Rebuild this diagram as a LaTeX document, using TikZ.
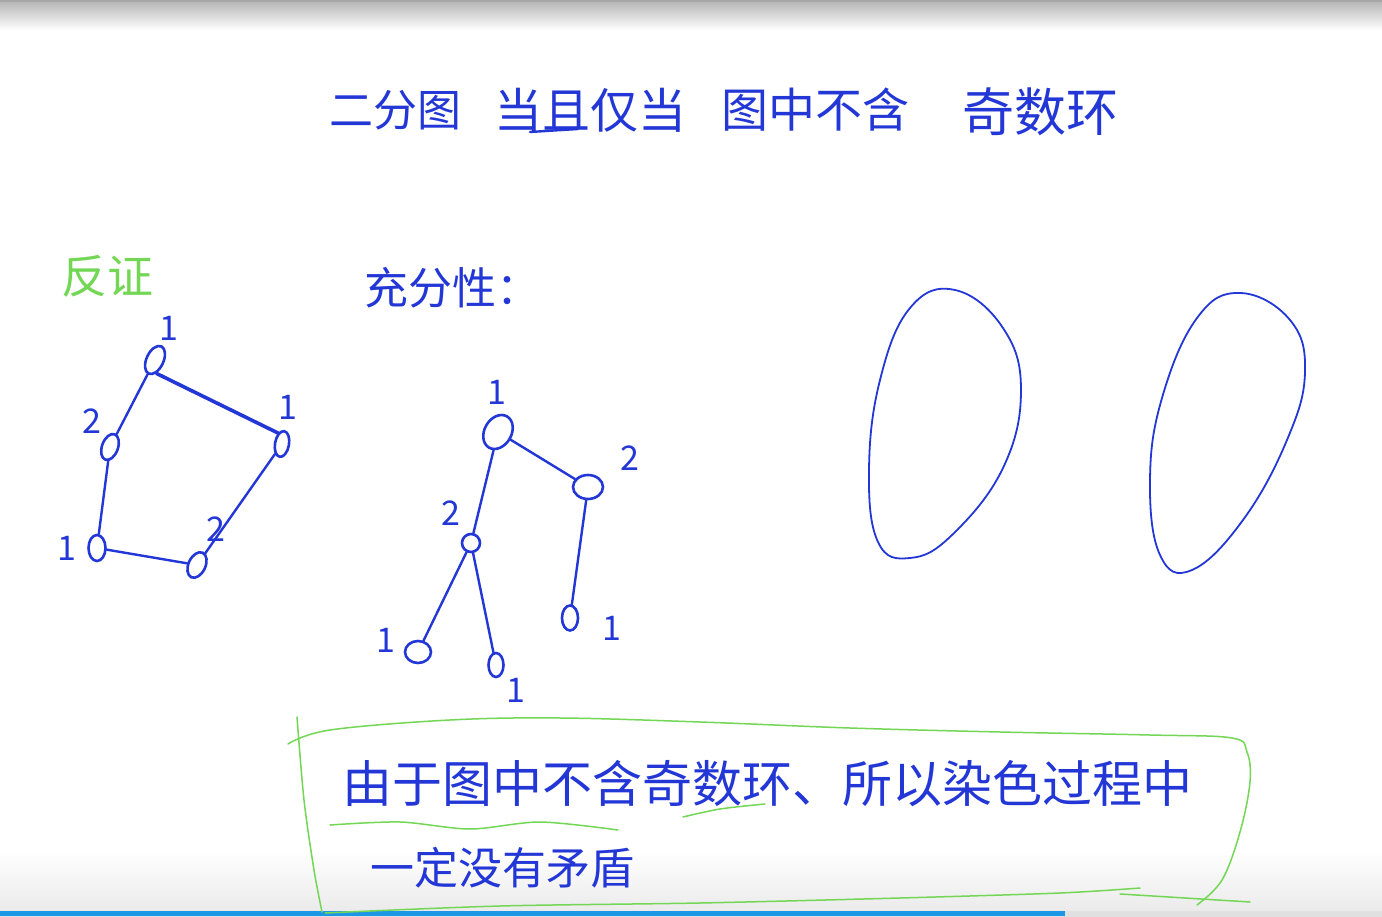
\documentclass[tikz,border=0pt]{standalone}
\usepackage{fontspec}
\newfontfamily\cjk{Noto Sans CJK SC}
\usetikzlibrary{shapes.geometric,calc}
\definecolor{inkblue}{RGB}{35,55,215}
\definecolor{inkgreen}{RGB}{115,215,85}
\definecolor{barblue}{RGB}{30,150,230}
\tikzset{vtx/.style={draw=inkblue,ellipse,line width=2.6pt,inner sep=0pt},
  edge/.style={draw=inkblue,line width=2.4pt,line cap=round},
  num/.style={text=inkblue,font=\cjk\fontsize{34}{34}\selectfont,inner sep=0pt},
  hand/.style={text=inkblue,inner sep=0pt},
  gline/.style={draw=inkgreen,line width=1.5pt,line cap=round}}
\begin{document}
\begin{tikzpicture}[x=1pt,y=-1pt]
\useasboundingbox (0,0) rectangle (1382,917);
% screen edges
\fill[white] (0,0) rectangle (1382,917);
\shade[top color=black!30,bottom color=white] (0,0) rectangle (1382,30);
\fill[black!35] (0,0) rectangle (1382,2);
\shade[top color=white,bottom color=black!8] (0,850) rectangle (1382,911);
\fill[black!12] (0,911) rectangle (1382,917);
\fill[barblue] (0,911) rectangle (1065,916);
% title
\node[hand,font=\cjk\fontsize{44}{44}\selectfont] (t1) at (395,110) {二分图};
\node[hand,font=\cjk\fontsize{48}{48}\selectfont] (t2) at (590,110) {当且仅当};
\node[hand,font=\cjk\fontsize{47}{47}\selectfont] (t3) at (815,110) {图中不含};
\node[hand,font=\cjk\fontsize{52}{52}\selectfont] (t4) at (1040,112) {奇数环};
\draw[edge] (530,132) -- (578,129);
% headings
\node[text=inkgreen,inner sep=0pt,font=\cjk\fontsize{46}{46}\selectfont] (proof) at (107,276) {反证};
\node[hand,font=\cjk\fontsize{44}{44}\selectfont] (suff) at (452,288) {充分性：};
% odd cycle
\node[vtx,minimum width=17pt,minimum height=30pt,rotate=-25] (a) at (155,360) {};
\node[vtx,minimum width=14pt,minimum height=26pt,rotate=-10] (b) at (282,444) {};
\node[vtx,minimum width=17pt,minimum height=27pt,rotate=-25] (c) at (197,565) {};
\node[vtx,minimum width=17pt,minimum height=26pt] (d) at (97,548) {};
\node[vtx,minimum width=16pt,minimum height=27pt,rotate=-20] (e) at (110,447) {};
\draw[edge,line width=3.6pt] (a.south east) .. controls (180,385) .. (b.north west);
\draw[edge] (b) -- (c);
\draw[edge] (c) -- (d);
\draw[edge] (d) -- (e);
\draw[edge] (e) -- (a);
\node[num] (la) at (169,328) {1};
\node[num] (lb) at (288,407) {1};
\node[num] (lc) at (216,529) {2};
\node[num] (ld) at (67,548) {1};
\node[num] (le) at (92,421) {2};
% search tree
\node[vtx,minimum width=27pt,minimum height=36pt,rotate=-30] (r) at (498,432) {};
\node[vtx,minimum width=18pt,minimum height=18pt] (p) at (471,543) {};
\node[vtx,minimum width=30pt,minimum height=24pt] (q) at (588,487) {};
\node[vtx,minimum width=26pt,minimum height=22pt] (pl) at (418,652) {};
\node[vtx,minimum width=15pt,minimum height=24pt] (pr) at (496,665) {};
\node[vtx,minimum width=16pt,minimum height=25pt] (ql) at (570,618) {};
\draw[edge] (r) -- (p);
\draw[edge] (r) -- (q);
\draw[edge] (p) -- (pl);
\draw[edge] (p) -- (pr);
\draw[edge] (q) -- (ql);
\node[num] (lr) at (497,392) {1};
\node[num] (lq) at (630,458) {2};
\node[num] (lp) at (451,513) {2};
\node[num] (lpl) at (386,640) {1};
\node[num] (lpr) at (516,690) {1};
\node[num] (lql) at (612,628) {1};
% two blobs
\draw[inkblue,line width=1.8pt] plot[smooth cycle,tension=0.7] coordinates
  {(955,290) (1003,328) (1021,390) (1003,468) (952,535) (910,558) (878,542) (869,470) (880,380) (910,308)};
\draw[inkblue,line width=1.8pt] plot[smooth cycle,tension=0.7] coordinates
  {(1240,293) (1290,320) (1305,372) (1287,440) (1243,520) (1192,570) (1160,555) (1150,480) (1162,398) (1197,318)};
% conclusion box
\draw[gline] plot[smooth,tension=0.6] coordinates
  {(288,744) (330,730) (450,720) (560,718) (700,722) (850,728) (1000,732) (1150,735) (1232,738) (1247,752) (1250,782) (1240,832) (1222,880) (1197,905)};
\draw[gline] plot[smooth] coordinates {(297,717) (304,800) (314,870) (322,912)};
\draw[gline] plot[smooth] coordinates {(325,913) (500,906) (700,903) (900,898) (1060,893) (1140,888)};
\draw[gline] (1120,894) -- (1250,902);
\draw[gline] plot[smooth] coordinates {(330,825) (400,822) (470,829) (540,822) (618,830)};
\draw[gline] plot[smooth] coordinates {(683,817) (720,809) (765,804)};
\node[hand,font=\cjk\fontsize{50}{50}\selectfont] (c1) at (767,784) {由于图中不含奇数环、所以染色过程中};
\node[hand,font=\cjk\fontsize{44}{44}\selectfont] (c2) at (502,868) {一定没有矛盾};
\end{tikzpicture}
\end{document}
